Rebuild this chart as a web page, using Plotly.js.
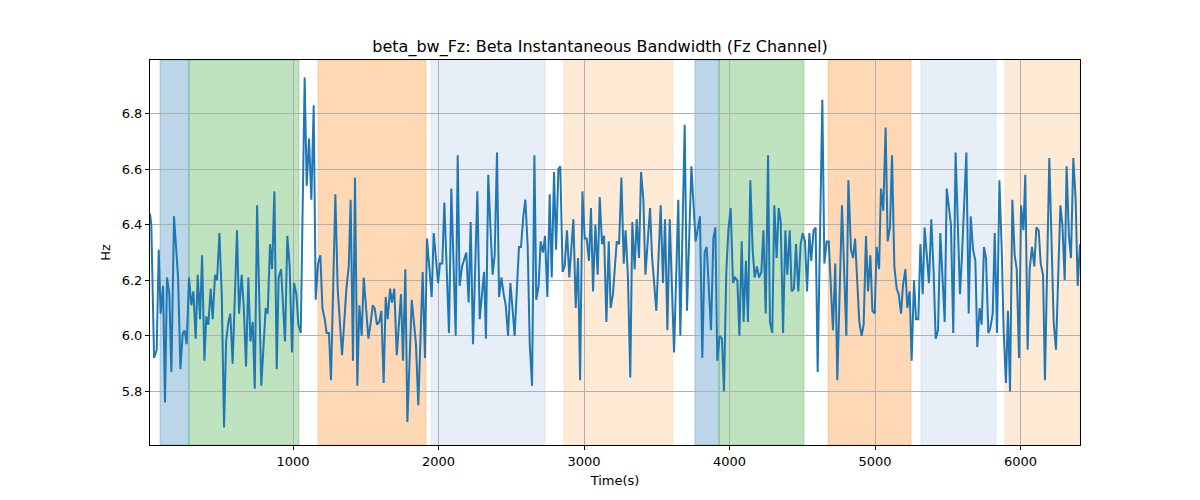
<!DOCTYPE html>
<html>
<head>
<meta charset="utf-8">
<script src="https://cdn.plot.ly/plotly-3.0.1.min.js"></script>
<style>html,body{margin:0;padding:0;background:#fff;}#chart{width:1200px;height:500px;}</style>
</head>
<body>
<div id="chart"></div>
<script>
const timeS = [17,26,45,63,77,90,107,120,134,150,164,182,196,210,226,242,255,269,285,301,315,331,345,361,375,391,404,418,434,448,464,478,494,510,526,540,556,569,585,615,629,647,661,677,693,707,723,737,753,782,812,826,842,856,872,888,901,918,945,961,977,993,1007,1023,1037,1053,
1080,1094,1110,1126,1142,1156,1172,1188,1202,1218,1231,1247,1261,1291,1307,1337,1367,1383,1396,1412,1426,1442,1456,1472,1486,1502,1518,1532,1548,1561,1577,1593,1607,1623,1637,1651,1667,1680,1696,1713,1742,1756,1772,1786,1816,1845,1861,1891,1907,1921,1953,1967,1997,2010,2026,2040,2072,2088,2118,
2132,2145,2162,2175,2191,2207,2221,2237,2267,2283,2313,2326,2342,2356,2372,2386,2402,2416,2432,2448,2462,2478,2494,2507,2523,2537,2553,2567,2583,2597,2613,2627,2643,2659,2672,2688,2702,2718,2732,2748,2764,2778,2794,2808,2824,2837,2853,2867,2883,2899,2913,2927,2943,2959,2973,2989,3005,3018,3034,3048,3062,3078,3094,3108,3124,3138,3154,3170,3183,
3199,3225,3241,3257,3273,3286,3302,3318,3332,3348,3362,3378,3392,3408,3422,3454,3467,3497,3527,3543,3557,3573,3589,3619,3648,3662,3692,3708,3738,3767,3797,3813,3829,3843,3873,3889,3903,3916,3932,3948,3962,3978,3992,4008,4024,4038,4054,4068,4084,4097,4113,4127,4143,4159,4173,4189,4203,4219,4233,4249,4265,
4278,4294,4308,4324,4338,4352,4368,4384,4397,4414,4427,4443,4457,4473,4489,4503,4519,4533,4549,4562,4578,4592,4606,4638,4652,4668,4682,4711,4727,4741,4773,4803,4817,4835,4849,4863,4892,4908,4922,4938,4952,4968,4982,4998,5011,5028,5041,5057,5073,5087,5103,5117,5133,5149,5163,5179,5192,5209,5222,5238,5252,5268,5282,5298,5312,5328,
5341,5357,5371,5387,5403,5417,5433,5449,5463,5479,5493,5509,5522,5538,5554,5584,5598,5628,5644,5658,5674,5690,5703,5719,5733,5749,5763,5779,5793,5809,5823,5839,5855,5871,5884,5900,5914,5928,5944,5960,5974,5990,6004,6020,6033,6049,6063,6079,6095,6109,6125,6139,6155,6168,6198,6214,6228,6244,6274,6288,6304,6317,6333,6347,6363,6379,6393,6409];

const bandwidthHz = [6.44,6.40,5.92,5.95,6.31,6.08,6.18,5.76,6.21,6.15,5.87,6.43,6.32,6.21,5.88,6.01,6.02,5.97,6.21,6.11,6.16,5.99,6.22,6.06,6.29,5.91,6.07,6.04,6.17,6.06,6.22,6.20,6.37,6.15,5.67,5.98,6.05,6.08,5.90,6.38,6.08,6.22,6.11,5.89,6.21,5.98,6.05,5.81,6.47,5.82,6.10,6.08,6.33,6.24,6.52,5.88,6.21,6.24,5.98,6.36,6.25,5.94,6.19,6.15,6.04,6.01,
6.93,6.54,6.71,6.49,6.83,6.13,6.26,6.29,6.10,6.06,6.01,6.01,5.84,6.51,6.17,5.93,6.17,6.25,6.49,5.91,6.57,5.82,6.11,6.00,6.21,6.08,5.99,6.04,6.11,6.10,6.04,6.05,6.09,5.83,6.14,6.06,6.17,6.12,6.17,5.93,6.15,5.91,6.24,5.69,6.13,5.97,5.75,6.23,5.92,6.35,6.14,6.37,6.19,6.26,6.26,6.48,6.01,6.53,6.00,
6.65,6.18,6.25,6.27,6.30,6.12,6.41,5.97,6.52,6.06,6.23,5.99,6.58,6.40,6.22,6.29,6.66,6.14,6.21,6.15,6.11,6.00,6.19,6.11,6.00,6.15,6.32,6.32,6.43,6.49,6.32,5.97,5.82,6.65,6.13,6.18,6.34,6.30,6.36,6.14,6.51,6.21,6.59,6.31,6.60,6.61,6.23,6.25,6.38,6.21,6.32,6.42,6.10,6.28,5.84,6.52,6.35,6.35,6.27,6.46,6.16,6.40,6.22,6.50,6.33,6.36,6.05,6.34,6.10,
6.15,6.34,6.33,6.57,6.26,6.38,6.21,5.85,6.41,6.24,6.42,6.28,6.59,6.49,6.22,6.46,6.29,6.09,6.47,6.19,6.42,6.02,6.42,5.94,6.49,6.00,6.76,6.09,6.61,6.34,6.43,5.92,6.30,6.32,6.02,6.35,6.39,5.91,6.00,5.99,5.80,6.23,6.38,6.46,6.19,6.21,6.20,6.00,6.34,6.05,6.27,6.05,6.56,6.31,6.21,6.25,6.21,6.23,6.38,6.08,6.65,
6.05,6.01,6.47,6.28,6.46,6.41,6.01,6.38,6.22,6.38,6.16,6.17,6.33,6.16,6.33,6.37,6.34,6.16,6.37,6.27,6.38,6.39,5.87,6.85,6.26,6.34,6.34,6.02,6.26,5.84,6.47,6.00,6.56,6.31,6.28,6.35,6.05,6.00,6.04,6.36,6.16,6.29,6.09,6.08,6.32,6.24,6.53,6.45,6.75,6.34,6.39,6.65,6.25,6.17,6.15,6.08,6.18,6.24,6.10,6.16,5.91,6.20,6.06,6.06,6.33,6.15,
6.39,6.28,6.19,6.42,6.23,5.99,6.02,6.37,6.23,6.05,6.53,6.46,6.40,6.01,6.66,6.15,6.29,6.66,6.08,6.43,6.31,6.27,5.96,6.10,6.04,6.32,6.28,6.01,6.03,6.08,6.37,6.01,6.56,6.31,6.02,5.83,6.09,5.80,6.49,6.29,6.24,5.92,6.47,6.38,6.58,5.95,6.24,6.32,6.25,6.39,6.38,6.26,6.22,5.84,6.64,6.33,6.05,5.95,6.47,6.40,6.20,6.61,6.36,6.28,6.64,6.49,6.18,6.33];

const bandStart = [86, 285, 1172, 1948, 2862, 3763, 3928, 4677, 5316, 5893];
const bandEnd   = [285, 1041, 1914, 2732, 3611, 3928, 4512, 5247, 5832, 6409];
const bandColor = ['#1f77b4','#2ca02c','#ff7f0e','#aec7e8','#ffbb78','#1f77b4','#2ca02c','#ff7f0e','#aec7e8','#ffbb78'];

const yTicks = [5.8, 6.0, 6.2, 6.4, 6.6, 6.8];
const xTicks = [1000, 2000, 3000, 4000, 5000, 6000];

function hexToRgba(h, a) {
  const r = parseInt(h.slice(1,3),16), g = parseInt(h.slice(3,5),16), b = parseInt(h.slice(5,7),16);
  return `rgba(${r},${g},${b},${a})`;
}

const shapes = bandStart.map((s, i) => ({
  type: 'rect', xref: 'x', yref: 'paper', x0: s, x1: bandEnd[i], y0: 0, y1: 1,
  fillcolor: hexToRgba(bandColor[i], 0.3),
  line: {color: hexToRgba(bandColor[i], 0.3), width: 1},
  layer: 'below'
}));

const trace = {
  x: timeS, y: bandwidthHz, type: 'scatter', mode: 'lines',
  line: {color: '#1f77b4', width: 2}, hoverinfo: 'x+y'
};

const font = {family: 'DejaVu Sans, sans-serif', size: 13, color: '#000'};

const layout = {
  width: 1200, height: 500,
  margin: {l: 150, r: 120, t: 60, b: 55},
  paper_bgcolor: '#fff', plot_bgcolor: '#fff',
  font: font,
  showlegend: false,
  title: {text: 'beta_bw_Fz: Beta Instantaneous Bandwidth (Fz Channel)', font: {family: 'DejaVu Sans, sans-serif', size: 16, color: '#000'}, x: 0.5, xanchor: 'center', y: 0.908, yanchor: 'middle'},
  xaxis: {
    range: [17, 6409], tickvals: xTicks, ticktext: xTicks.map(String),
    showgrid: true, gridcolor: '#b0b0b0', gridwidth: 1,
    showline: true, linecolor: '#000', linewidth: 1, mirror: true,
    ticks: 'outside', ticklen: 4, tickcolor: '#000', zeroline: false,
    title: {text: 'Time(s)', font: font, standoff: 8}
  },
  yaxis: {
    range: [5.607, 6.993], tickvals: yTicks, ticktext: yTicks.map(v => v.toFixed(1)),
    showgrid: true, gridcolor: '#b0b0b0', gridwidth: 1,
    showline: true, linecolor: '#000', linewidth: 1, mirror: true,
    ticks: 'outside', ticklen: 4, tickcolor: '#000', zeroline: false,
    title: {text: 'Hz', font: font, standoff: 8}
  },
  shapes: shapes
};

Plotly.newPlot('chart', [trace], layout, {displayModeBar: false, staticPlot: true});
</script>
</body>
</html>
